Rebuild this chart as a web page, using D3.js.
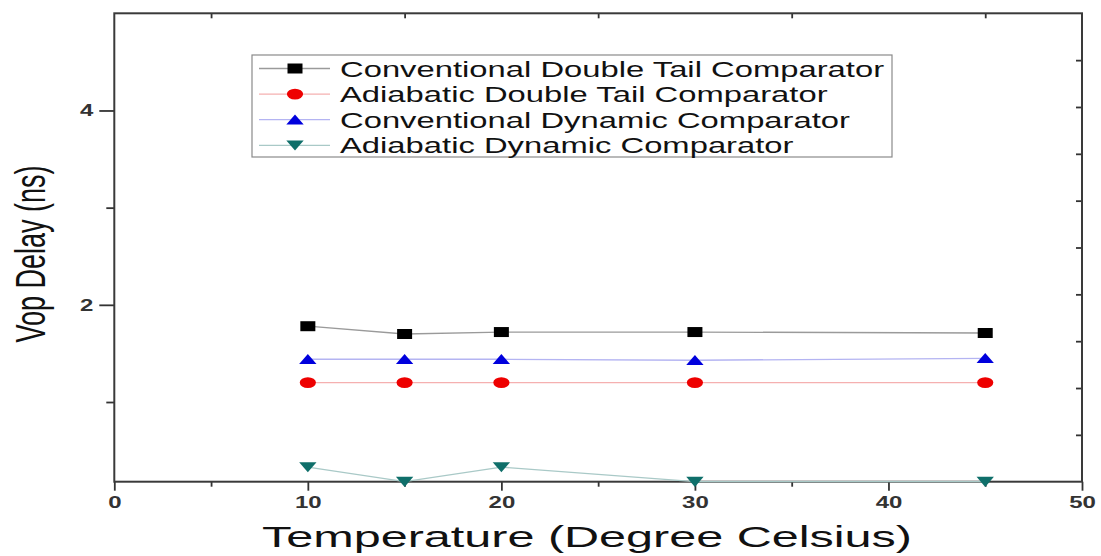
<!DOCTYPE html>
<html>
<head>
<meta charset="utf-8">
<script src="https://cdn.jsdelivr.net/npm/d3@7"></script>
<style>
  body { margin: 0; background: #fff; }
  svg { display: block; font-family: "Liberation Sans", Arial, sans-serif; }
</style>
</head>
<body>
<svg width="1101" height="556"></svg>
<script>
const svg = d3.select('svg');
const width = 1101;
const height = 556;

// data
const temperatures = [10, 15, 20, 30, 45];
const convDoubleTail = [1.78, 1.70, 1.72, 1.72, 1.71];
const adiaDoubleTail = [1.20, 1.20, 1.20, 1.20, 1.20];
const convDynamic = [1.44, 1.44, 1.44, 1.43, 1.45];
const adiaDynamic = [0.33, 0.18, 0.33, 0.18, 0.18];
const seriesNames = [
  'Conventional Double Tail Comparator',
  'Adiabatic Double Tail Comparator',
  'Conventional Dynamic Comparator',
  'Adiabatic Dynamic Comparator'
];

const xTicks = [0, 10, 20, 30, 40, 50];
const xMinorTicks = [5, 15, 25, 35, 45];
const yTicks = [2, 4];
const yMinorTicks = [1, 3];
const rightTicks = [0.5, 1, 1.5, 2, 2.5, 3, 3.5, 4, 4.5];

// the original picture is stretched sideways
const SX = 1.5;

const styles = [
  { line: '#9a9a9a', fill: '#000000', shape: 'square' },
  { line: '#f5b0b0', fill: '#ee0000', shape: 'circle' },
  { line: '#b4b4f2', fill: '#0000dd', shape: 'triangle' },
  { line: '#a9c9c7', fill: '#0f6f6a', shape: 'down' }
];

const markerPath = (shape) => {
  if (shape === 'square') return d3.symbol(d3.symbolSquare, 100)();
  if (shape === 'circle') return d3.symbol(d3.symbolCircle, 92)();
  return d3.symbol(d3.symbolTriangle, 58)();
};

const markerTransform = (shape, x, y) => {
  let t = `translate(${x},${y}) scale(${SX},1)`;
  if (shape === 'triangle') t += ' translate(0,1.5)';
  if (shape === 'down') t += ' rotate(180) translate(0,1.5)';
  return t;
};

const render = () => {
  const margin = { top: 13.3, right: 19, bottom: 74.3, left: 114.3 };
  const innerWidth = width - margin.left - margin.right;
  const innerHeight = height - margin.top - margin.bottom;

  const xScale = d3.scaleLinear().domain([0, 50]).range([0, innerWidth]);
  const yScale = d3.scaleLinear().domain([0.18, 5]).range([innerHeight, 0]);
  const yRight = d3.scaleLinear().domain([0, 5]).range([innerHeight, 0]);

  const g = svg.append('g')
    .attr('transform', `translate(${margin.left},${margin.top})`);

  // axes
  g.append('g')
    .attr('transform', `translate(0,${innerHeight})`)
    .call(d3.axisBottom(xScale).tickValues(xMinorTicks).tickSize(5).tickFormat(''));
  const bottomMajor = g.append('g')
    .attr('transform', `translate(0,${innerHeight})`)
    .call(d3.axisBottom(xScale).tickValues(xTicks).tickSize(9).tickFormat(d3.format('d')));
  bottomMajor.selectAll('text')
    .attr('y', null).attr('dy', null)
    .attr('transform', `translate(0,26) scale(${SX},1)`);

  g.append('g')
    .call(d3.axisTop(xScale).tickValues(xMinorTicks).tickSize(-5).tickFormat(''));

  g.append('g')
    .call(d3.axisLeft(yScale).tickValues(yMinorTicks).tickSize(8).tickFormat(''));
  const leftMajor = g.append('g')
    .call(d3.axisLeft(yScale).tickValues(yTicks).tickSize(15).tickFormat(d3.format('d')));
  leftMajor.selectAll('text')
    .attr('x', null).attr('dy', null)
    .attr('transform', `translate(-21,5.5) scale(${SX},1)`);

  g.append('g')
    .attr('transform', `translate(${innerWidth},0)`)
    .call(d3.axisRight(yRight).tickValues(rightTicks).tickSize(-6).tickFormat(''));

  g.selectAll('.domain').remove();
  g.selectAll('.tick line').attr('stroke', '#333').attr('stroke-width', 1.8);
  g.selectAll('.tick text')
    .attr('fill', '#333')
    .attr('font-size', 16)
    .attr('font-weight', 'bold')
    .attr('font-family', '"Liberation Sans", Arial, sans-serif');

  // frame
  g.append('rect')
    .attr('width', innerWidth)
    .attr('height', innerHeight)
    .attr('fill', 'none')
    .attr('stroke', '#3a3a3a')
    .attr('stroke-width', 2);

  // series
  const allSeries = [convDoubleTail, adiaDoubleTail, convDynamic, adiaDynamic];
  const line = d3.line()
    .x(d => xScale(d.t))
    .y(d => yScale(d.v));

  allSeries.forEach((values, i) => {
    const pts = temperatures.map((t, j) => ({ t: t, v: values[j] }));
    const s = styles[i];
    g.append('path')
      .datum(pts)
      .attr('fill', 'none')
      .attr('stroke', s.line)
      .attr('stroke-width', 1.3)
      .attr('d', line);
    g.selectAll('.m' + i).data(pts)
      .enter().append('path')
        .attr('class', 'm' + i)
        .attr('d', markerPath(s.shape))
        .attr('fill', s.fill)
        .attr('transform', d => markerTransform(s.shape, xScale(d.t), yScale(d.v)));
  });

  // legend
  const legend = svg.append('g').attr('transform', 'translate(252,55)');
  legend.append('rect')
    .attr('width', 640)
    .attr('height', 102)
    .attr('fill', '#fff')
    .attr('stroke', '#8a8a8a')
    .attr('stroke-width', 1.2);
  seriesNames.forEach((name, i) => {
    const s = styles[i];
    const ly = 13.5 + i * 25.6;
    legend.append('line')
      .attr('x1', 7).attr('x2', 78)
      .attr('y1', ly).attr('y2', ly)
      .attr('stroke', s.line)
      .attr('stroke-width', 1.3);
    legend.append('path')
      .attr('d', markerPath(s.shape))
      .attr('fill', s.fill)
      .attr('transform', markerTransform(s.shape, 43, ly));
    legend.append('text')
      .attr('transform', `translate(88,${ly + 8}) scale(1.49,1)`)
      .attr('font-size', 22)
      .attr('fill', '#111')
      .text(name);
  });

  // axis titles
  svg.append('text')
    .attr('x', 262)
    .attr('y', 547)
    .attr('font-size', 29)
    .attr('fill', '#111')
    .attr('textLength', 650)
    .attr('lengthAdjust', 'spacingAndGlyphs')
    .text('Temperature (Degree Celsius)');

  svg.append('text')
    .attr('transform', `translate(45,254) scale(1.6,1) rotate(-90)`)
    .attr('text-anchor', 'middle')
    .attr('font-size', 27)
    .attr('fill', '#111')
    .text('Vop Delay (ns)');
};

render();
</script>
</body>
</html>
